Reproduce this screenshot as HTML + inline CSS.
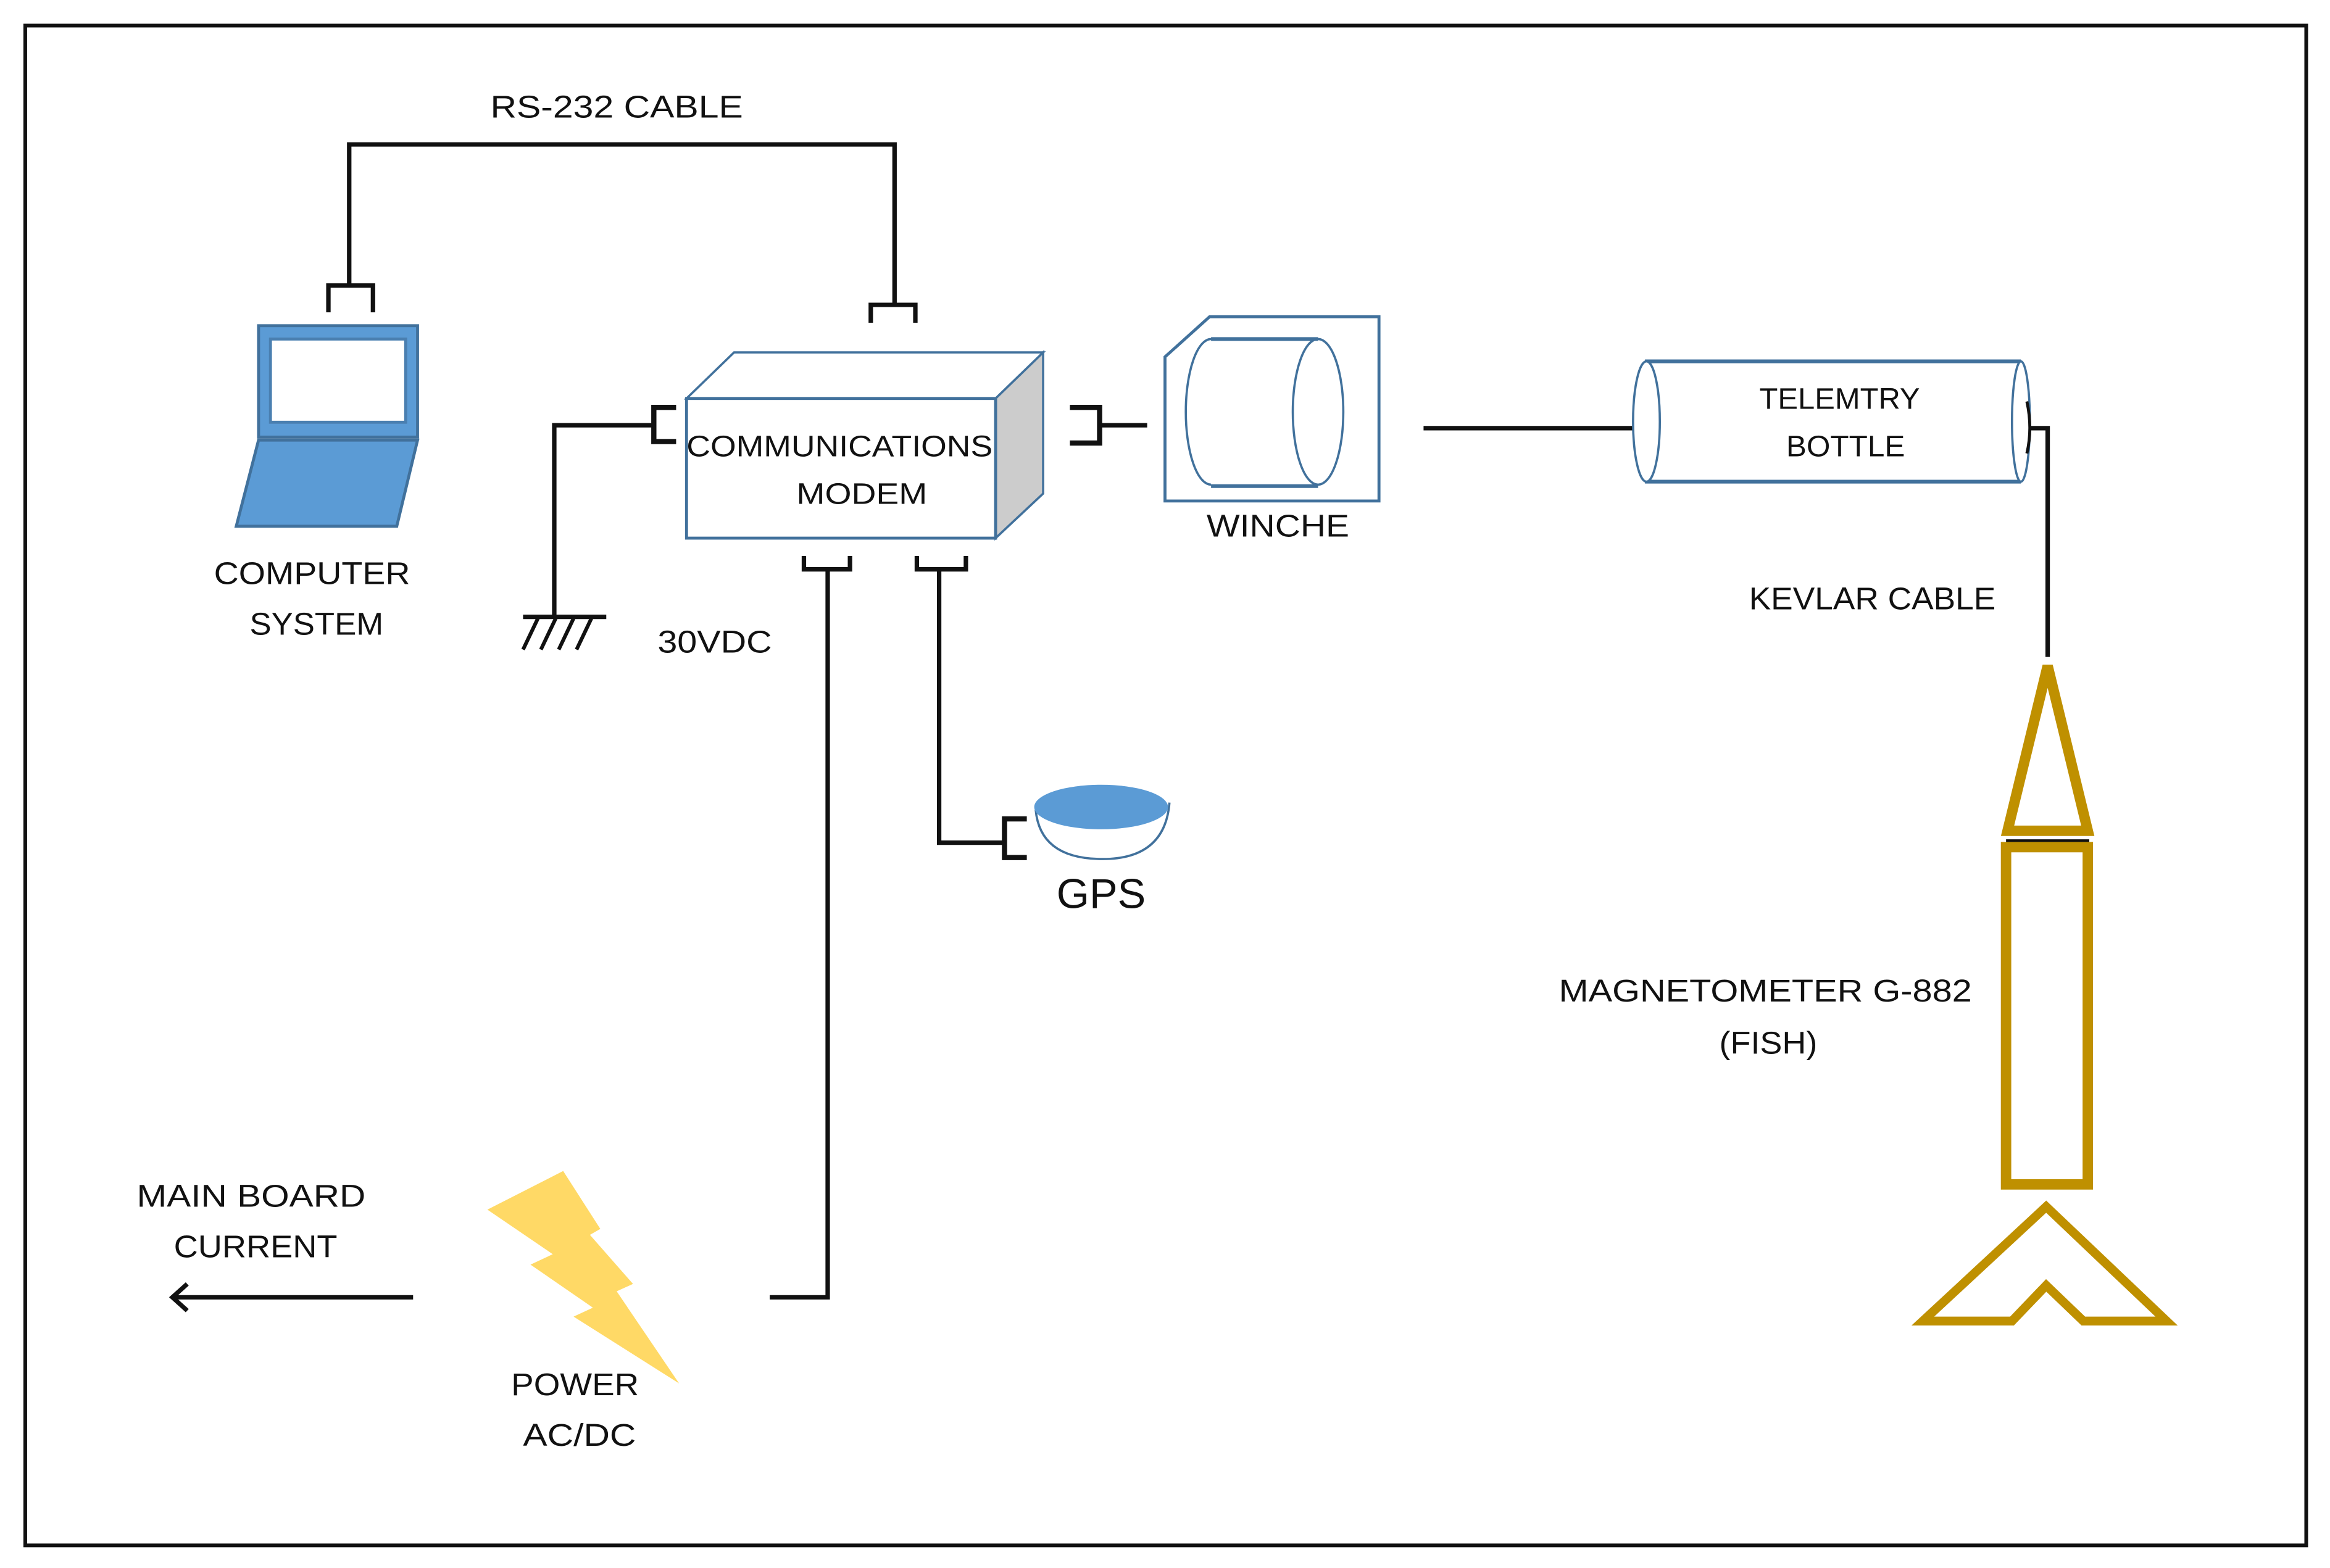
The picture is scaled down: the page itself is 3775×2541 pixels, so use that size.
<!DOCTYPE html>
<html><head><meta charset="utf-8"><style>
html,body{margin:0;padding:0;background:#fff;}
svg{display:block;}
text{font-family:"Liberation Sans",sans-serif;fill:#111;}
</style></head><body>
<svg width="3775" height="2541" viewBox="0 0 1568 1055" xmlns="http://www.w3.org/2000/svg">
<rect x="0" y="0" width="1568" height="1055" fill="#fff"/>
<rect x="17" y="17" width="1535" height="1023" fill="none" stroke="#111" stroke-width="2.5"/>

<!-- RS-232 -->
<text x="415" y="79" font-size="21" text-anchor="middle" textLength="170" lengthAdjust="spacingAndGlyphs">RS-232 CABLE</text>
<polyline points="235,192 235,97 602,97 602,205" fill="none" stroke="#111" stroke-width="3"/>
<path d="M221,210 V192 H251 V210" fill="none" stroke="#111" stroke-width="3"/>
<path d="M586,217 V205 H616 V217" fill="none" stroke="#111" stroke-width="3"/>

<!-- Laptop -->
<rect x="174" y="219" width="107" height="75" fill="#5b9bd5" stroke="#41719c" stroke-width="2"/>
<rect x="182" y="228" width="91" height="56" fill="#fff" stroke="#4a7fb0" stroke-width="2"/>
<polygon points="174,296 281,296 267,354 159,354" fill="#5b9bd5" stroke="#41719c" stroke-width="2"/>
<text x="210" y="393" font-size="21" text-anchor="middle" textLength="132" lengthAdjust="spacingAndGlyphs">COMPUTER</text>
<text x="213" y="427" font-size="21" text-anchor="middle" textLength="90" lengthAdjust="spacingAndGlyphs">SYSTEM</text>

<!-- Modem cube -->
<polygon points="462,268 494,237 702,237 670,268" fill="#fff" stroke="#41719c" stroke-width="1.5"/>
<polygon points="670,268 702,237 702,332 670,362" fill="#cccccc" stroke="#41719c" stroke-width="1.5"/>
<rect x="462" y="268" width="208" height="94" fill="#fff" stroke="#41719c" stroke-width="2"/>
<text x="565" y="307" font-size="20" text-anchor="middle" textLength="206" lengthAdjust="spacingAndGlyphs">COMMUNICATIONS</text>
<text x="580" y="339" font-size="20" text-anchor="middle" textLength="88" lengthAdjust="spacingAndGlyphs">MODEM</text>

<!-- left bracket and ground -->
<path d="M455,274 H440 V297 H455" fill="none" stroke="#111" stroke-width="3.5"/>
<polyline points="440,286 373,286 373,415" fill="none" stroke="#111" stroke-width="3"/>
<line x1="352" y1="415" x2="408" y2="415" stroke="#111" stroke-width="3"/>
<g stroke="#111" stroke-width="2.5">
<line x1="362" y1="416" x2="352" y2="437"/>
<line x1="374" y1="416" x2="364" y2="437"/>
<line x1="386" y1="416" x2="376" y2="437"/>
<line x1="398" y1="416" x2="388" y2="437"/>
</g>
<text x="481" y="439" font-size="21" text-anchor="middle" textLength="77" lengthAdjust="spacingAndGlyphs">30VDC</text>

<!-- bottom brackets -->
<path d="M541,374 V383 H572 V374" fill="none" stroke="#111" stroke-width="3"/>
<polyline points="557,383 557,873 518,873" fill="none" stroke="#111" stroke-width="3"/>
<path d="M617,374 V383 H650 V374" fill="none" stroke="#111" stroke-width="3"/>
<polyline points="632,383 632,567 676,567" fill="none" stroke="#111" stroke-width="3"/>
<path d="M691,551 H676 V577 H691" fill="none" stroke="#111" stroke-width="3.5"/>

<!-- right bracket -->
<path d="M720,274 H740 V298 H720" fill="none" stroke="#111" stroke-width="3.5"/>
<line x1="740" y1="286" x2="772" y2="286" stroke="#111" stroke-width="3"/>

<!-- Winch -->
<polygon points="814,213 928,213 928,337 784,337 784,240" fill="#fff" stroke="#41719c" stroke-width="2"/>
<ellipse cx="815" cy="277" rx="17" ry="49" fill="none" stroke="#41719c" stroke-width="1.5"/>
<rect x="815" y="229" width="72" height="97" fill="#fff"/>
<ellipse cx="887" cy="277" rx="17" ry="49" fill="#fff" stroke="#41719c" stroke-width="1.5"/>
<path d="M815,228 H887 M815,327 H887" stroke="#41719c" stroke-width="2.5" fill="none"/>
<text x="860" y="361" font-size="21" text-anchor="middle" textLength="96" lengthAdjust="spacingAndGlyphs">WINCHE</text>

<line x1="958" y1="288" x2="1100" y2="288" stroke="#111" stroke-width="3"/>

<!-- Telemetry bottle -->
<rect x="1107" y="243" width="253" height="81" fill="#fff" stroke="none"/>
<line x1="1107" y1="243" x2="1360" y2="243" stroke="#41719c" stroke-width="2.5"/>
<line x1="1107" y1="324" x2="1360" y2="324" stroke="#41719c" stroke-width="2.5"/>
<ellipse cx="1360" cy="283.5" rx="6" ry="40.5" fill="#fff" stroke="#41719c" stroke-width="1.5"/>
<ellipse cx="1108" cy="283.5" rx="9" ry="40.5" fill="#fff" stroke="#41719c" stroke-width="1.5"/>
<text x="1238" y="275" font-size="20" text-anchor="middle" textLength="108" lengthAdjust="spacingAndGlyphs">TELEMTRY</text>
<text x="1242" y="307" font-size="20" text-anchor="middle" textLength="80" lengthAdjust="spacingAndGlyphs">BOTTLE</text>
<path d="M1364,270 Q1368,288 1364,305" fill="none" stroke="#111" stroke-width="2"/>
<polyline points="1366,288 1378,288 1378,442" fill="none" stroke="#111" stroke-width="3"/>
<text x="1260" y="410" font-size="21" text-anchor="middle" textLength="166" lengthAdjust="spacingAndGlyphs">KEVLAR CABLE</text>

<!-- Fish -->
<polygon points="1378,448 1351,559 1405,559" fill="none" stroke="#bf9000" stroke-width="7"/>
<line x1="1350" y1="566" x2="1406" y2="566" stroke="#111" stroke-width="2.5"/>
<rect x="1350" y="570" width="55" height="227" fill="none" stroke="#bf9000" stroke-width="7"/>
<polygon points="1377,812 1458,889 1402,889 1377,865 1354,889 1294,889" fill="none" stroke="#bf9000" stroke-width="6" stroke-linejoin="miter"/>
<text x="1188" y="674" font-size="21" text-anchor="middle" textLength="278" lengthAdjust="spacingAndGlyphs">MAGNETOMETER G-882</text>
<text x="1190" y="709" font-size="21" text-anchor="middle" textLength="66" lengthAdjust="spacingAndGlyphs">(FISH)</text>

<!-- GPS -->
<path d="M697,545 Q700,578 742,578 Q784,578 787,540" fill="#fff" stroke="#41719c" stroke-width="1.5"/>
<ellipse cx="741" cy="543" rx="45" ry="15" fill="#5b9bd5"/>
<text x="741" y="611" font-size="28" text-anchor="middle" textLength="60" lengthAdjust="spacingAndGlyphs">GPS</text>

<!-- Main board current -->
<text x="169" y="812" font-size="21" text-anchor="middle" textLength="154" lengthAdjust="spacingAndGlyphs">MAIN BOARD</text>
<text x="172" y="846" font-size="21" text-anchor="middle" textLength="110" lengthAdjust="spacingAndGlyphs">CURRENT</text>
<line x1="116" y1="873" x2="278" y2="873" stroke="#111" stroke-width="3"/>
<polyline points="126,864 116,873 126,882" fill="none" stroke="#111" stroke-width="3"/>

<!-- Lightning -->
<polygon points="328,814 379,788 404,827 397,831 426,864 415,869 457,931 386,886 399,880 357,851 372,844" fill="#ffd966"/>
<text x="387" y="939" font-size="21" text-anchor="middle" textLength="86" lengthAdjust="spacingAndGlyphs">POWER</text>
<text x="390" y="973" font-size="21" text-anchor="middle" textLength="76" lengthAdjust="spacingAndGlyphs">AC/DC</text>
</svg>
</body></html>
